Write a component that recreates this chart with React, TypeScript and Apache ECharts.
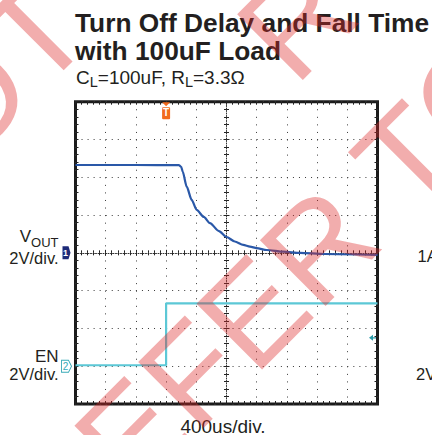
import React, { useEffect, useRef } from 'react';
import * as echarts from 'echarts';

// ---------------- data ----------------
const xMinUs = -2000;
const xMaxUs = 2000;
const xDivUs = 400;
const yMinDiv = -4;
const yMaxDiv = 4;
const voltsPerDiv = 2;

const voutTimeUs = [-2000, -1200, -630, -600, -580, -527, -461, -395, -300, -219, -100, 0, 110, 222, 311, 400, 532, 752, 974, 1300, 2000];
const voutVolts = [4.65, 4.65, 4.64, 4.55, 4.3, 3.5, 2.8, 2.27, 1.9, 1.57, 1.15, 0.84, 0.6, 0.42, 0.33, 0.25, 0.15, 0.06, 0.0, -0.06, -0.11];
const voutGroundDiv = 0;

const enTimeUs = [-2000, -800, -800, 2000];
const enVolts = [0.05, 0.05, 3.33, 3.33];
const enGroundDiv = -3;

const triggerTimeUs = -800;
const enTriggerLevelV = 1.5;

const titleLines = ['Turn Off Delay and Fall Time', 'with 100uF Load'];
const xAxisLabel = '400us/div.';
const leftLabels = { vout: ['V', 'OUT', '2V/div.'], en: ['EN', '2V/div.'] };
const rightLabels = ['1A/div.', '2V/div.'];

const watermarkTexts = ['REFER TO', 'R', 'NOT'];
const watermarkAlong = [-357, 146.5, -242];
const watermarkPerp = [446.8, 271, 95];

// ---------------- styling ----------------
const FONT = '"Liberation Sans", Arial, Helvetica, sans-serif';
const INK = '#231f20';
const VOUT_COLOR = '#2a58a8';
const EN_COLOR = '#5cc8d6';
const GRID = { left: 75.5, top: 101.7, width: 302, height: 302.3 };

let measureCtx: CanvasRenderingContext2D | null = null;
function textWidth(text: string, size: number, weight = 'normal') {
  if (!measureCtx) measureCtx = document.createElement('canvas').getContext('2d');
  measureCtx!.font = `${weight} ${size}px ${FONT}`;
  return measureCtx!.measureText(text).width;
}

function txt(text: string, x: number, y: number, size: number, opts: any = {}) {
  return {
    type: 'text',
    x,
    y,
    z: 10,
    rotation: opts.rotation || 0,
    style: {
      text,
      fill: opts.fill || INK,
      font: `${opts.weight || 'normal'} ${size}px ${FONT}`,
      textAlign: opts.align || 'left',
      textVerticalAlign: 'middle',
    },
  };
}

// pieces: [text, size, dy]
function seq(pieces: [string, number, number][], x: number, y: number, alignRight = false, weight = 'normal') {
  const widths = pieces.map(([t, s]) => textWidth(t, s, weight));
  const total = widths.reduce((a, b) => a + b, 0);
  let cx = alignRight ? x - total : x;
  const out: any[] = [];
  pieces.forEach(([t, s, dy], i) => {
    out.push(txt(t, cx, y + dy, s, { weight }));
    cx += widths[i];
  });
  return out;
}

function buildOption() {
  const dotted = (dash: number[]) => ({ show: true, lineStyle: { color: '#3a3a3a', width: 1, type: dash } });
  const tick = (inside: boolean, len = 3) => ({ show: true, inside, length: len, lineStyle: { color: '#222', width: 1 } });
  const minor = (len = 3) => ({ show: true, splitNumber: 5, length: len, lineStyle: { color: '#222', width: 1 } });

  const baseX: any = {
    type: 'value', min: xMinUs, max: xMaxUs, interval: xDivUs,
    axisLabel: { show: false }, splitLine: { show: false },
  };
  const baseY: any = {
    type: 'value', min: yMinDiv, max: yMaxDiv, interval: 1,
    axisLabel: { show: false }, splitLine: { show: false },
  };
  const centerLine = { color: '#333', width: 1, type: [1, 1.5] };

  const xAxis = [
    { ...baseX, position: 'bottom', axisLine: { show: false, onZero: false }, splitLine: dotted([1, 6.56]), axisTick: tick(true), minorTick: minor() },
    { ...baseX, position: 'top', axisLine: { show: false, onZero: false }, axisTick: tick(true), minorTick: minor() },
    { ...baseX, position: 'bottom', axisLine: { show: true, onZero: true, onZeroAxisIndex: 0, lineStyle: centerLine }, axisTick: tick(true, 3), minorTick: minor(2.5) },
    { ...baseX, position: 'bottom', axisLine: { show: false, onZero: true, onZeroAxisIndex: 0 }, axisTick: tick(false, 3), minorTick: minor(2.5) },
  ];
  const yAxis = [
    { ...baseY, position: 'left', axisLine: { show: false, onZero: false }, splitLine: dotted([1, 5.04]), axisTick: tick(true), minorTick: minor() },
    { ...baseY, position: 'right', axisLine: { show: false, onZero: false }, axisTick: tick(true), minorTick: minor() },
    { ...baseY, position: 'left', axisLine: { show: true, onZero: true, onZeroAxisIndex: 0, lineStyle: centerLine }, axisTick: tick(true, 3), minorTick: minor(2.5) },
    { ...baseY, position: 'left', axisLine: { show: false, onZero: true, onZeroAxisIndex: 0 }, axisTick: tick(false, 3), minorTick: minor(2.5) },
  ];

  const voutData = voutTimeUs.map((t, i) => [t, voutVolts[i] / voltsPerDiv + voutGroundDiv]);
  const enData = enTimeUs.map((t, i) => [t, enVolts[i] / voltsPerDiv + enGroundDiv]);

  const series: any[] = [
    {
      type: 'line', name: 'EN', xAxisIndex: 0, yAxisIndex: 0, data: enData,
      showSymbol: false, lineStyle: { color: EN_COLOR, width: 2.2 }, z: 3,
      markPoint: {
        silent: true,
        data: [
          {
            coord: [xMinUs, enGroundDiv], symbol: 'path://M0,0 L7,0 L10,6 L7,12 L0,12 Z', symbolSize: [10, 12], symbolOffset: [-9, 0],
            itemStyle: { color: '#ffffff', borderColor: '#3aaab8', borderWidth: 1 },
            label: { show: true, formatter: '2', color: '#3aaab8', fontSize: 10, fontFamily: FONT, offset: [-1, 0] },
          },
          {
            coord: [xMaxUs, enTriggerLevelV / voltsPerDiv + enGroundDiv], symbol: 'path://M0,3 L4,0 L4,6 Z M4,2.4 L7,2.4 L7,3.6 L4,3.6 Z', symbolSize: [7, 6], symbolOffset: [-5, 0],
            itemStyle: { color: '#2a9aa8' }, label: { show: false },
          },
        ],
      },
    },
    {
      type: 'line', name: 'VOUT', xAxisIndex: 0, yAxisIndex: 0, data: voutData,
      showSymbol: false, smooth: 0.25, smoothMonotone: 'x', lineStyle: { color: VOUT_COLOR, width: 2.2 }, z: 4,
      markPoint: {
        silent: true,
        data: [
          {
            coord: [xMinUs, voutGroundDiv], symbol: 'path://M0,0 L6,0 L8,6 L6,12 L0,12 Z', symbolSize: [8, 13], symbolOffset: [-9, 0],
            itemStyle: { color: '#1c2a78' },
            label: { show: true, formatter: '1', color: '#ffffff', fontSize: 9, fontWeight: 'bold', fontFamily: FONT, offset: [-1, 0] },
          },
          {
            coord: [triggerTimeUs, yMaxDiv], symbol: 'path://M0,0 L8,0 L4,4 Z M1,5 L7,5 Q8,5 8,6 L8,16 Q8,17 7,17 L1,17 Q0,17 0,16 L0,6 Q0,5 1,5 Z', symbolSize: [8, 17], symbolOffset: [0, 9],
            itemStyle: { color: '#f26b1d' },
            label: { show: true, formatter: 'T', color: '#ffffff', fontSize: 10, fontWeight: 'bold', fontFamily: FONT, offset: [0, 2] },
          },
        ],
      },
    },
  ];

  const graphic: any[] = [];
  // titles
  graphic.push(txt(titleLines[0], 75, 22.7, 26.3, { weight: 'bold' }));
  graphic.push(txt(titleLines[1], 75, 51, 26.3, { weight: 'bold' }));
  graphic.push(...seq([['C', 19, 0], ['L', 14.5, 4], ['=100uF, R', 19, 0], ['L', 14.5, 4], ['=3.3Ω', 19, 0]], 76, 77.5));
  // left labels
  graphic.push(...seq([[leftLabels.vout[0], 17, 0], [leftLabels.vout[1], 13, 5.5]], 58.5, 236.5, true));
  graphic.push(txt(leftLabels.vout[2], 58.5, 258, 16.5, { align: 'right' }));
  graphic.push(txt(leftLabels.en[0], 58.5, 356, 17, { align: 'right' }));
  graphic.push(txt(leftLabels.en[1], 58.5, 374, 16.5, { align: 'right' }));
  // right labels (cut off by the picture's edge, as in the reference)
  graphic.push(txt(rightLabels[0], 417.5, 256, 16.5));
  graphic.push(txt(rightLabels[1], 416, 374, 16.5));
  // x label
  graphic.push(txt(xAxisLabel, 223, 426, 19, { align: 'center' }));

  // watermark
  const c = Math.SQRT1_2;
  const centralOffset = 0.3465 * 135;
  watermarkTexts.forEach((t, i) => {
    const a = watermarkAlong[i];
    const p = watermarkPerp[i];
    const ox = c * (a + p) - centralOffset * c;
    const oy = c * (p - a) - centralOffset * c;
    graphic.push({
      type: 'text', x: ox, y: oy, rotation: Math.PI / 4, z: 100, silent: true,
      style: { text: t, fill: 'rgba(220,40,40,0.38)', font: `normal 135px ${FONT}`, textAlign: 'left', textVerticalAlign: 'middle' },
    });
  });

  return {
    animation: false,
    backgroundColor: '#ffffff',
    grid: { ...GRID, show: true, borderColor: '#1b1b1b', borderWidth: 3, backgroundColor: 'transparent' },
    xAxis,
    yAxis,
    series,
    graphic,
  };
}

export default function App() {
  const ref = useRef<HTMLDivElement>(null);
  useEffect(() => {
    if (!ref.current) return;
    const chart = echarts.init(ref.current, null, { renderer: 'svg' });
    chart.setOption(buildOption() as any);
    return () => chart.dispose();
  }, []);
  return (
    <div
      ref={ref}
      style={{ position: 'fixed', left: 0, top: 0, width: 432, height: 435, background: '#fff' }}
    />
  );
}
